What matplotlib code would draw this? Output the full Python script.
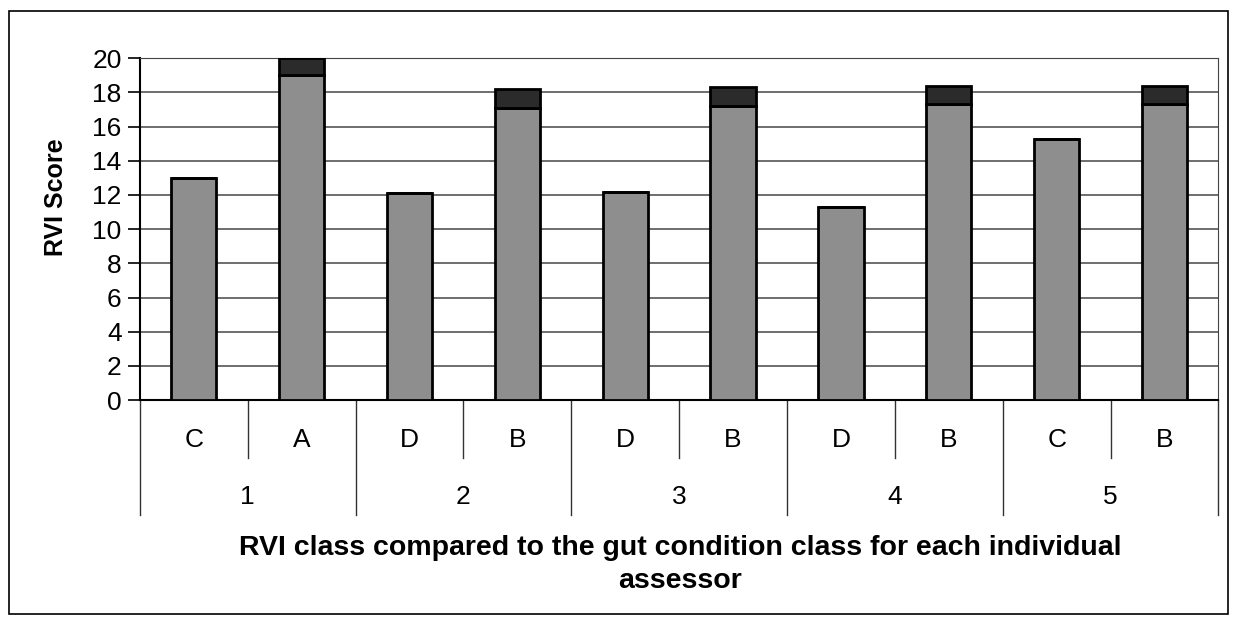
import matplotlib.pyplot as plt
import matplotlib.transforms as mtransforms
from matplotlib.patches import Rectangle

plt.rcParams['font.family'] = ['Liberation Sans', 'DejaVu Sans']

# data
assessors = ["1", "2", "3", "4", "5"]
classes = ["C", "A", "D", "B", "D", "B", "D", "B", "C", "B"]
base = [13.0, 19.0, 12.1, 17.1, 12.2, 17.2, 11.3, 17.3, 15.3, 17.3]
top = [0.0, 1.0, 0.0, 1.1, 0.0, 1.1, 0.0, 1.1, 0.0, 1.1]

fig = plt.figure(figsize=(12.37, 6.27), dpi=100)
fig.patches.append(Rectangle((0.007, 0.02), 0.986, 0.962, transform=fig.transFigure,
                             fill=False, edgecolor="black", linewidth=1.2))
ax = fig.add_axes([0.113, 0.362, 0.872, 0.545])

x = list(range(len(classes)))
ax.bar(x, base, width=0.42, color="#8e8e8e", edgecolor="black", linewidth=2, zorder=3)
ax.bar(x, top, width=0.42, bottom=base, color="#2b2b2b", edgecolor="black", linewidth=2, zorder=3)

ax.set_xlim(-0.5, len(classes) - 0.5)
ax.set_ylim(0, 20)
ax.set_yticks(range(0, 21, 2))
ax.tick_params(axis="y", labelsize=19, length=9, width=1.2, pad=4)
ax.tick_params(axis="x", bottom=False, labelbottom=False)
ax.yaxis.grid(True, color="#555555", linewidth=1.2, zorder=0)
for s in ["top", "right"]:
    ax.spines[s].set_color("#444444")
ax.spines["left"].set_linewidth(1.5)
ax.spines["bottom"].set_linewidth(1.5)

trans = mtransforms.blended_transform_factory(ax.transData, ax.transAxes)
for i, c in enumerate(classes):
    ax.text(i, -0.117, c, transform=trans, ha="center", va="center", fontsize=19)
for g, a in enumerate(assessors):
    ax.text(2 * g + 0.5, -0.284, a, transform=trans, ha="center", va="center", fontsize=19)

# separators under the axis
for i in range(len(classes) + 1):
    xs = i - 0.5
    low = -0.336 if i % 2 == 0 else -0.17
    ax.plot([xs, xs], [0, low], transform=trans, color="#333333", linewidth=1, clip_on=False)

ax.set_ylabel("RVI Score", fontsize=18, fontweight="bold")
ax.yaxis.set_label_coords(-0.067, 0.594)
fig.text(0.55, 0.1, "RVI class compared to the gut condition class for each individual\nassessor",
         ha="center", va="center", fontsize=20.5, fontweight="bold", linespacing=1.35)

fig.savefig("out.png", dpi=100)
